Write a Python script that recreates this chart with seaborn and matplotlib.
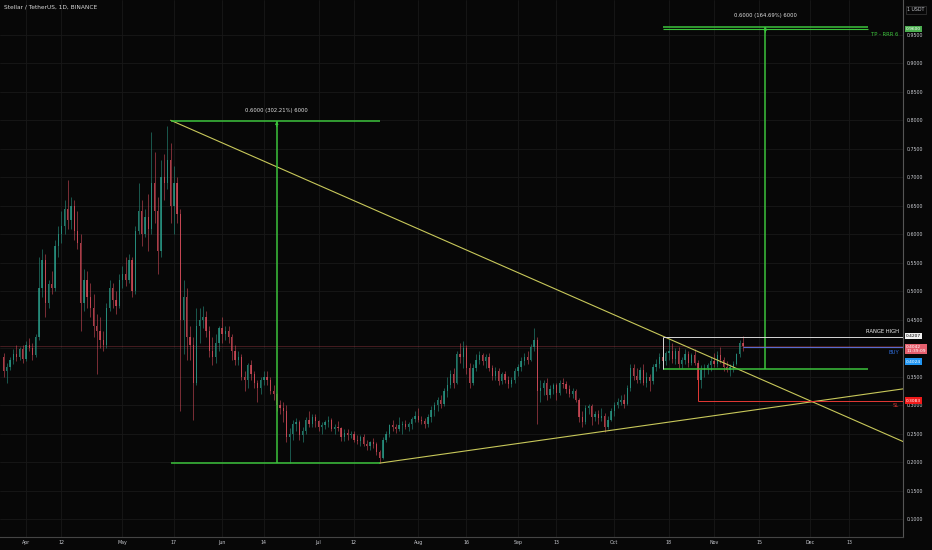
import numpy as np
import pandas as pd
import matplotlib
matplotlib.use("Agg")
import matplotlib.pyplot as plt
import matplotlib.dates as mdates
import seaborn as sns

# XLM/USDT daily candles, 2021-03-25 .. 2021-11-10
first_day = "2021-03-25"

opens = ([.385, .360, .368, .380, .390, .385, .398]
         + [.382, .405, .400, .388, .420, .505, .555, .480, .512, .505, .580, .600, .615, .645, .625,
            .650, .605, .585, .480, .520, .490, .470, .440, .430, .415, .405, .470, .505, .485, .475]
         + [.520, .530, .520, .555, .500, .605, .640, .600, .630, .610, .690, .640, .570, .700, .690,
            .730, .650, .690, .635, .450, .490, .420, .405, .340, .440, .450, .455, .430, .395, .385, .410]
         + [.435, .425, .430, .420, .395, .380, .385, .350, .345, .370, .355, .340, .330, .345, .350,
            .345, .325, .320, .300, .295, .290, .245, .250, .268, .270, .248, .255, .275, .268, .280]
         + [.272, .262, .265, .270, .275, .258, .262, .260, .245, .252, .248, .250, .240, .238, .245,
            .232, .228, .235, .232, .218, .207, .240, .250, .265, .262, .258, .265, .268, .262, .268, .276]
         + [.282, .275, .272, .268, .280, .292, .300, .310, .302, .325, .335, .355, .340, .390, .385,
            .400, .365, .340, .365, .380, .388, .378, .385, .365, .352, .360, .342, .355, .345, .338, .345]
         + [.360, .368, .378, .385, .380, .402, .415, .325, .330, .340, .318, .328, .335, .322, .340,
            .338, .328, .320, .325, .310, .280, .270, .295, .298, .280, .285, .278, .282, .262, .275]
         + [.290, .300, .305, .310, .302, .330, .365, .352, .345, .362, .340, .350, .342, .368, .372,
            .385, .378, .392, .395, .382, .395, .372, .380, .390, .375, .388, .375, .345, .362, .365, .370]
         + [.378, .372, .388, .380, .368, .362, .368, .372, .390, .410])

highs = ([.392, .375, .385, .398, .405, .402, .405]
         + [.412, .418, .410, .425, .560, .575, .565, .520, .535, .590, .615, .640, .660, .695, .665,
            .660, .640, .600, .540, .535, .515, .495, .460, .455, .430, .480, .520, .515, .500, .530]
         + [.545, .560, .565, .560, .615, .690, .660, .645, .670, .780, .745, .665, .730, .740, .790,
            .760, .720, .700, .645, .520, .505, .440, .420, .470, .470, .475, .465, .440, .420, .425, .440]
         + [.455, .440, .440, .425, .405, .395, .390, .360, .375, .380, .360, .345, .350, .360, .360,
            .350, .335, .322, .310, .305, .300, .260, .275, .278, .275, .262, .280, .290, .285, .285]
         + [.275, .270, .275, .282, .278, .268, .272, .262, .258, .258, .255, .255, .248, .248, .250,
            .240, .238, .242, .235, .222, .245, .255, .268, .275, .268, .280, .272, .275, .270, .280, .290]
         + [.295, .282, .278, .285, .298, .305, .315, .318, .330, .350, .362, .365, .395, .410, .412,
            .405, .375, .372, .390, .395, .392, .390, .392, .370, .368, .365, .358, .360, .352, .350, .365]
         + [.372, .385, .392, .395, .408, .435, .420, .345, .345, .348, .335, .340, .340, .345, .348,
            .342, .335, .330, .328, .312, .290, .300, .302, .302, .290, .292, .295, .286, .282, .295]
         + [.305, .312, .318, .320, .335, .372, .372, .365, .368, .372, .358, .355, .372, .382, .392,
            .392, .395, .418, .410, .400, .402, .385, .398, .395, .392, .398, .380, .370, .372, .375, .385]
         + [.392, .395, .402, .385, .378, .372, .378, .392, .415, .421])

lows = ([.350, .340, .362, .372, .378, .380, .375]
        + [.378, .395, .380, .385, .415, .490, .455, .470, .495, .500, .560, .585, .600, .610, .610,
           .590, .575, .430, .465, .470, .455, .420, .355, .400, .395, .400, .465, .470, .460, .470]
        + [.505, .510, .515, .490, .495, .600, .580, .595, .570, .600, .620, .530, .560, .660, .680,
           .620, .600, .620, .290, .390, .380, .380, .275, .335, .410, .435, .420, .385, .370, .375, .395]
        + [.410, .415, .410, .380, .370, .370, .345, .325, .330, .345, .330, .305, .320, .335, .335,
           .320, .310, .290, .285, .270, .235, .198, .240, .255, .240, .235, .250, .262, .262, .262]
        + [.255, .250, .258, .262, .255, .250, .255, .238, .238, .240, .242, .235, .232, .228, .228,
           .222, .222, .225, .212, .199, .205, .235, .245, .255, .252, .255, .250, .258, .255, .258, .270]
        + [.270, .268, .260, .262, .270, .282, .290, .295, .298, .315, .330, .330, .338, .375, .365,
           .355, .330, .335, .360, .372, .370, .365, .360, .345, .345, .335, .338, .340, .330, .332, .340]
        + [.352, .360, .370, .372, .378, .395, .268, .305, .318, .310, .312, .320, .310, .318, .330,
           .322, .315, .312, .305, .270, .262, .268, .285, .265, .272, .268, .272, .254, .258, .272]
        + [.282, .295, .300, .296, .300, .325, .345, .340, .340, .335, .332, .325, .338, .360, .365,
           .372, .370, .380, .375, .372, .365, .365, .372, .368, .370, .370, .340, .330, .350, .355, .360]
        + [.368, .368, .375, .360, .358, .352, .358, .370, .385, .395])

closes = ([.360, .368, .380, .390, .385, .398, .382]
          + [.405, .400, .388, .420, .505, .555, .480, .512, .505, .580, .600, .615, .645, .625, .650,
             .605, .585, .480, .520, .490, .470, .440, .430, .415, .405, .470, .505, .485, .475, .520]
          + [.530, .520, .555, .500, .605, .640, .600, .630, .610, .690, .640, .570, .700, .690, .730,
             .650, .690, .635, .450, .490, .420, .405, .340, .440, .450, .455, .430, .395, .385, .410, .435]
          + [.425, .430, .420, .395, .380, .385, .350, .345, .370, .355, .340, .330, .345, .350, .345,
             .325, .320, .300, .295, .290, .245, .250, .268, .270, .248, .255, .275, .268, .280, .272]
          + [.262, .265, .270, .275, .258, .262, .260, .245, .252, .248, .250, .240, .238, .245, .232,
             .228, .235, .232, .218, .207, .240, .250, .265, .262, .258, .265, .268, .262, .268, .276, .282]
          + [.275, .272, .268, .280, .292, .300, .310, .302, .325, .335, .355, .340, .390, .385, .400,
             .365, .340, .365, .380, .388, .378, .385, .365, .352, .360, .342, .355, .345, .338, .345, .360]
          + [.368, .378, .385, .380, .402, .415, .325, .330, .340, .318, .328, .335, .322, .340, .338,
             .328, .320, .325, .310, .280, .270, .295, .298, .280, .285, .278, .282, .262, .275, .290]
          + [.300, .305, .310, .302, .330, .365, .352, .345, .362, .340, .350, .342, .368, .372, .385,
             .378, .392, .395, .382, .395, .372, .380, .390, .375, .388, .375, .345, .362, .365, .370, .378]
          + [.372, .388, .380, .368, .362, .368, .372, .390, .410, .404])

# drawings on the chart
desc_dates = ["2021-05-16", "2021-12-30"]
desc_prices = [0.800, 0.236]
asc_dates = ["2021-07-20", "2021-12-30"]
asc_prices = [0.1986, 0.329]

range1_dates = ["2021-05-16", "2021-07-20"]
range1_mid = "2021-06-18"
range1_prices = [0.1986, 0.7986]
range1_label = "0.6000 (302.21%) 6000"

range2_dates = ["2021-10-16", "2021-12-19"]
range2_mid = "2021-11-17"
range2_prices = [0.3643, 0.9643]
range2_label = "0.6000 (164.69%) 6000"

tp_price = 0.9600
range_high = 0.4207
range_high_date = "2021-10-16"
last_price = 0.4042
countdown = "11:39:09"
buy_price = 0.4024
buy_date = "2021-11-10"
sl_price = 0.3083
sl_date = "2021-10-27"

price_ticks = [0.10, 0.15, 0.20, 0.25, 0.30, 0.35, 0.40, 0.45, 0.50,
               0.55, 0.60, 0.65, 0.70, 0.75, 0.80, 0.85, 0.90, 0.95]
date_ticks = ["2021-04-01", "2021-04-12", "2021-05-01", "2021-05-17", "2021-06-01", "2021-06-14",
              "2021-07-01", "2021-07-12", "2021-08-01", "2021-08-16", "2021-09-01", "2021-09-13",
              "2021-10-01", "2021-10-18", "2021-11-01", "2021-11-15", "2021-12-01", "2021-12-13"]
date_labels = ["Apr", "12", "May", "17", "Jun", "14", "Jul", "12", "Aug", "16",
               "Sep", "13", "Oct", "18", "Nov", "15", "Dec", "13"]

BG = "#070707"
GRID = "#181818"
TXT = "#c8cad0"
UP = "#2a9d8a"
DOWN = "#e0505e"
GREEN = "#3cc23c"
YEL = "#c8c85a"

sns.set_theme(style="dark", rc={"axes.facecolor": BG, "figure.facecolor": BG,
                                "axes.edgecolor": "#4a4a4a", "text.color": TXT,
                                "xtick.color": TXT, "ytick.color": TXT})
plt.rcParams["font.family"] = ["DejaVu Sans"]

def dn(d):
    return mdates.date2num(pd.Timestamp(d))

df = pd.DataFrame({"date": pd.date_range(first_day, periods=len(closes)),
                   "open": opens, "high": highs, "low": lows, "close": closes})
df["x"] = mdates.date2num(df["date"])
up = df["close"] >= df["open"]
cols = np.where(up, UP, DOWN)

fig = plt.figure(figsize=(9.32, 5.5), dpi=100)
ax = fig.add_axes([0, 13 / 550, 903 / 932, 537 / 550])

apr1 = dn("2021-04-01")
ax.set_xlim(apr1 - 8.1, apr1 + 272.8)
ax.set_ylim(0.069, 1.011)

ax.grid(True, color=GRID, lw=0.6)
ax.set_axisbelow(True)

# current price line
ax.axhline(last_price, color=DOWN, lw=0.5, alpha=0.4, zorder=1)

# candles
ax.vlines(df["x"], df["low"], df["high"], colors=cols, lw=0.5, alpha=0.75, zorder=2)
body = (df["close"] - df["open"]).abs().clip(lower=0.002)
ax.bar(df["x"], body, bottom=np.minimum(df["open"], df["close"]), width=0.4,
       color=cols, alpha=0.75, linewidth=0, zorder=3)

# triangle trend lines
sns.lineplot(x=[dn(d) for d in desc_dates], y=desc_prices, ax=ax, color=YEL, lw=0.8, zorder=4)
sns.lineplot(x=[dn(d) for d in asc_dates], y=asc_prices, ax=ax, color=YEL, lw=0.8, zorder=4)

# price range measurements
for dates, mid, prices, label in [(range1_dates, range1_mid, range1_prices, range1_label),
                                  (range2_dates, range2_mid, range2_prices, range2_label)]:
    x0, x1 = dn(dates[0]), dn(dates[1])
    for p in prices:
        ax.hlines(p, x0, x1, color=GREEN, lw=1.1, zorder=5)
    ax.vlines(dn(mid), prices[0], prices[1], color=GREEN, lw=1.1, zorder=5)
    ax.annotate("", xy=(dn(mid), prices[1]), xytext=(dn(mid), prices[1] - 0.01),
                arrowprops=dict(arrowstyle="-|>", color=GREEN, lw=0.8, mutation_scale=4,
                                shrinkA=0, shrinkB=0), zorder=5)
    ax.text(dn(mid), prices[1] + 0.019, label, ha="center", va="center",
            fontsize=3.8, color="#e0e0e0")

# TP
ax.hlines(tp_price, dn(range2_dates[0]), dn(range2_dates[1]), color=GREEN, lw=0.8, zorder=5)
ax.annotate("TP - RRR 6", xy=(1, tp_price), xycoords=ax.get_yaxis_transform(),
            xytext=(-3, -2), textcoords="offset points", ha="right", va="top",
            fontsize=3.8, color=GREEN)

# range high box
xr = dn(range_high_date)
ax.hlines(range_high, xr, ax.get_xlim()[1], color="#d8d8d8", lw=0.7, zorder=5)
ax.vlines(xr, range2_prices[0], range_high, color="#d8d8d8", lw=0.7, zorder=5)
ax.annotate("RANGE HIGH", xy=(1, range_high), xycoords=ax.get_yaxis_transform(),
            xytext=(-3, 2), textcoords="offset points", ha="right", va="bottom",
            fontsize=3.8, color="#f0f0f0")

# buy
ax.hlines(buy_price, dn(buy_date), ax.get_xlim()[1], color="#5b6fd6", lw=0.7, zorder=5)
ax.annotate("BUY", xy=(1, buy_price), xycoords=ax.get_yaxis_transform(),
            xytext=(-3, -2), textcoords="offset points", ha="right", va="top",
            fontsize=3.8, color="#2f6fe0")

# stop loss
xs = dn(sl_date)
ax.hlines(sl_price, xs, ax.get_xlim()[1], color="#e53935", lw=0.7, zorder=5)
ax.vlines(xs, sl_price, range2_prices[0], color="#e53935", lw=0.7, zorder=5)
ax.annotate("SL", xy=(1, sl_price), xycoords=ax.get_yaxis_transform(),
            xytext=(-3, -2), textcoords="offset points", ha="right", va="top",
            fontsize=3.8, color="#e53935")

# axes
ax.yaxis.tick_right()
ax.set_yticks(price_ticks)
ax.set_yticklabels([f"{p:.4f}" for p in price_ticks])
ax.set_xticks([dn(d) for d in date_ticks])
ax.set_xticklabels(date_labels)
ax.tick_params(axis="y", length=0, pad=3, labelsize=3.4, labelcolor=TXT)
ax.tick_params(axis="x", length=0, pad=2.5, labelsize=3.4, labelcolor=TXT)
for s in ["top", "left"]:
    ax.spines[s].set_visible(False)
ax.spines["right"].set_color("#555555")
ax.spines["bottom"].set_color("#444444")
ax.spines["right"].set_linewidth(0.8)
ax.spines["bottom"].set_linewidth(0.8)
ax.set_xlabel("")
ax.set_ylabel("")

# hide the tick label under the stacked price tags
for lbl in ax.get_yticklabels():
    if lbl.get_text() == "0.4000":
        lbl.set_visible(False)

# price tags on the axis
tags = [(tp_price, "0.9600", "#4caf50", "white", 0),
        (range_high, "0.4207", "#f0f0f0", "black", 0.5),
        (last_price, f"{last_price:.4f}\n{countdown}", "#e5606e", "white", -2.2),
        (buy_price, "0.4024", "#2196f3", "white", -10.5),
        (sl_price, "0.3083", "#f01a1a", "white", 0)]
for p, t, fc, tc, dy in tags:
    ax.annotate(t, xy=(1, p), xycoords=ax.get_yaxis_transform(), xytext=(2.2, dy),
                textcoords="offset points", ha="left", va="center", fontsize=3.2,
                color=tc, linespacing=1.05, annotation_clip=False, zorder=10,
                bbox=dict(boxstyle="square,pad=0.25", fc=fc, ec="none"))

ax.annotate("1 USDT", xy=(1, 1), xycoords="axes fraction", xytext=(3, -7),
            textcoords="offset points", ha="left", va="center", fontsize=3.4, color=TXT,
            annotation_clip=False,
            bbox=dict(boxstyle="square,pad=0.3", fc=BG, ec="#3a3a3a", lw=0.5))

fig.text(4 / 932, 1 - 7 / 550, "Stellar / TetherUS, 1D, BINANCE", fontsize=4.2,
         color="#d8d8d8", ha="left", va="center")

fig.savefig("out.png", dpi=100, facecolor=BG)
